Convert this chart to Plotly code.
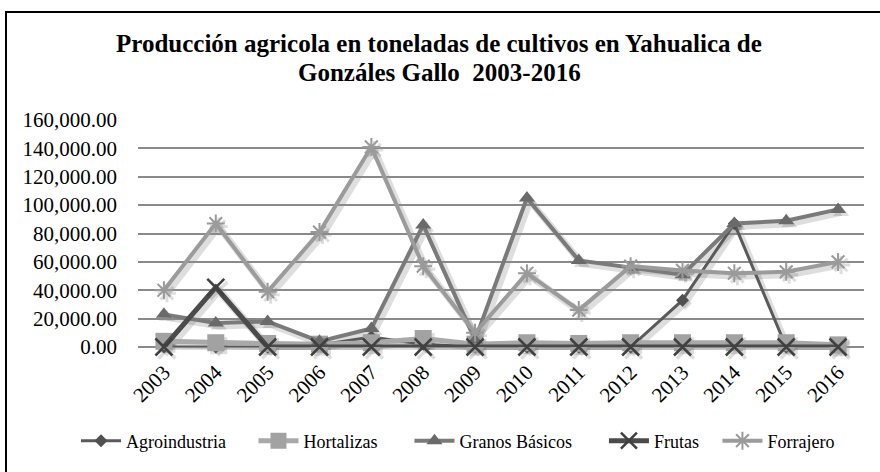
import plotly.graph_objects as go

years = [str(y) for y in range(2003, 2017)]

agroindustria = [0, 0, 0, 1500, 7000, 2000, 0, 0, 0, 0, 33000, 87000, 0, 0]
hortalizas = [4000, 3000, 2500, 2000, 3000, 6000, 2000, 3000, 2500, 3000, 3000, 3000, 3000, 1500]
granos_basicos = [23000, 17000, 18000, 4000, 13000, 86000, 5000, 105000, 61000, 56000, 51000, 87000, 89000, 97000]
frutas = [0, 42000, 0, 0, 0, 0, 0, 0, 0, 0, 0, 0, 0, 0]
forrajero = [40000, 87000, 39000, 81000, 141000, 57000, 10000, 52000, 26000, 57000, 54000, 52000, 53000, 60000]

title_lines = ["Producción agricola en toneladas de cultivos en Yahualica de",
               "Gonzáles Gallo  2003-2016"]

W, H = 880, 472
L, R, T, B = 138, 16, 120, 125
SH = 3  # drop-shadow offset in px

nb = "\u00a0"
series = [
    ("Agroindustria", agroindustria, "#5a5a5a", 3, 5,
     dict(symbol="diamond", size=10, color="#505050")),
    ("Hortalizas", hortalizas, "#a9a9a9", 5, 6,
     dict(symbol="square", size=17, color="#a2a2a2")),
    ("Granos Básicos", granos_basicos, "#7a7a7a", 4, 6,
     dict(symbol="triangle-up", size=14, color="#6a6a6a")),
    ("Frutas", frutas, "#4b4b4b", 5, 3,
     dict(symbol="x-thin", size=17, color="#404040", line=dict(width=2.5, color="#404040"))),
    ("Forrajero", forrajero, "#9b9b9b", 4, 0,
     dict(symbol="asterisk", size=15, color="#9a9a9a", line=dict(width=2, color="#9a9a9a"))),
]

fig = go.Figure()
# soft drop shadows, drawn on a hidden copy of the axes nudged down-right
shadow = "rgba(0,0,0,0.13)"
for name, vals, col, lw, npad, mk in series:
    smk = dict(mk)
    smk["color"] = shadow
    if "line" in smk:
        smk["line"] = dict(width=smk["line"]["width"] + 1, color=shadow)
    fig.add_trace(go.Scatter(
        x=years, y=vals, mode="lines+markers", cliponaxis=False, showlegend=False,
        hoverinfo="skip", xaxis="x", yaxis="y",
        line=dict(color=shadow, width=lw + 3), marker=smk,
    ))
# visible series
for name, vals, col, lw, npad, mk in series:
    fig.add_trace(go.Scatter(
        x=years, y=vals, name=name + nb * npad, xaxis="x2", yaxis="y2",
        mode="lines+markers", cliponaxis=False,
        line=dict(color=col, width=lw), marker=mk,
    ))

serif = "Liberation Serif"

pw = W - L - R + SH
ph = H - T - B + SH
d_x = SH / pw
d_y = SH / ph


def py(y_px):
    """Paper y for a pixel row measured from the top of the page."""
    return (H - B + SH - y_px) / ph


def px(x_px):
    return (x_px - L) / pw


fig.update_layout(
    width=W, height=H,
    margin=dict(l=L, r=R - SH, t=T, b=B - SH),
    paper_bgcolor="white", plot_bgcolor="rgba(0,0,0,0)",
    font=dict(family=serif, color="black", size=18),
    xaxis=dict(
        domain=[d_x, 1], anchor="y",
        type="category", range=[-0.5, 13.5], visible=False,
    ),
    yaxis=dict(
        domain=[0, 1 - d_y], anchor="x",
        range=[0, 160000], visible=False,
    ),
    xaxis2=dict(
        domain=[0, 1 - d_x], anchor="y2",
        type="category", range=[-0.5, 13.5], tickangle=-45,
        showgrid=False, showline=False, ticks="", ticklabelstandoff=8,
        tickfont=dict(family=serif, size=21, color="black"),
    ),
    yaxis2=dict(
        domain=[d_y, 1], anchor="x2",
        range=[0, 160000], dtick=20000, tickformat=",.2f",
        showgrid=True, gridcolor="#8a8a8a", gridwidth=1.5,
        zeroline=True, zerolinecolor="#8a8a8a", zerolinewidth=1.5,
        showline=False, ticks="", ticklabelstandoff=20,
        tickfont=dict(family=serif, size=21, color="black"),
    ),
    legend=dict(
        orientation="h", x=px(76), xanchor="left", y=py(441), yanchor="middle",
        font=dict(family=serif, size=18, color="black"),
        itemwidth=40, tracegroupgap=0,
    ),
    showlegend=True,
    annotations=[
        dict(text="<b>%s</b>" % title_lines[0], xref="paper", yref="paper",
             x=px(439), y=py(44), xanchor="center", yanchor="middle", showarrow=False,
             font=dict(family=serif, size=25, color="black")),
        dict(text="<b>%s</b>" % title_lines[1], xref="paper", yref="paper",
             x=px(439), y=py(72), xanchor="center", yanchor="middle", showarrow=False,
             font=dict(family=serif, size=25, color="black")),
    ],
    shapes=[dict(
        type="rect", xref="paper", yref="paper",
        x0=px(6), x1=px(W + 20), y0=py(500), y1=py(12),
        line=dict(color="black", width=2), layer="above",
    )],
)

fig.write_html("out.html")
